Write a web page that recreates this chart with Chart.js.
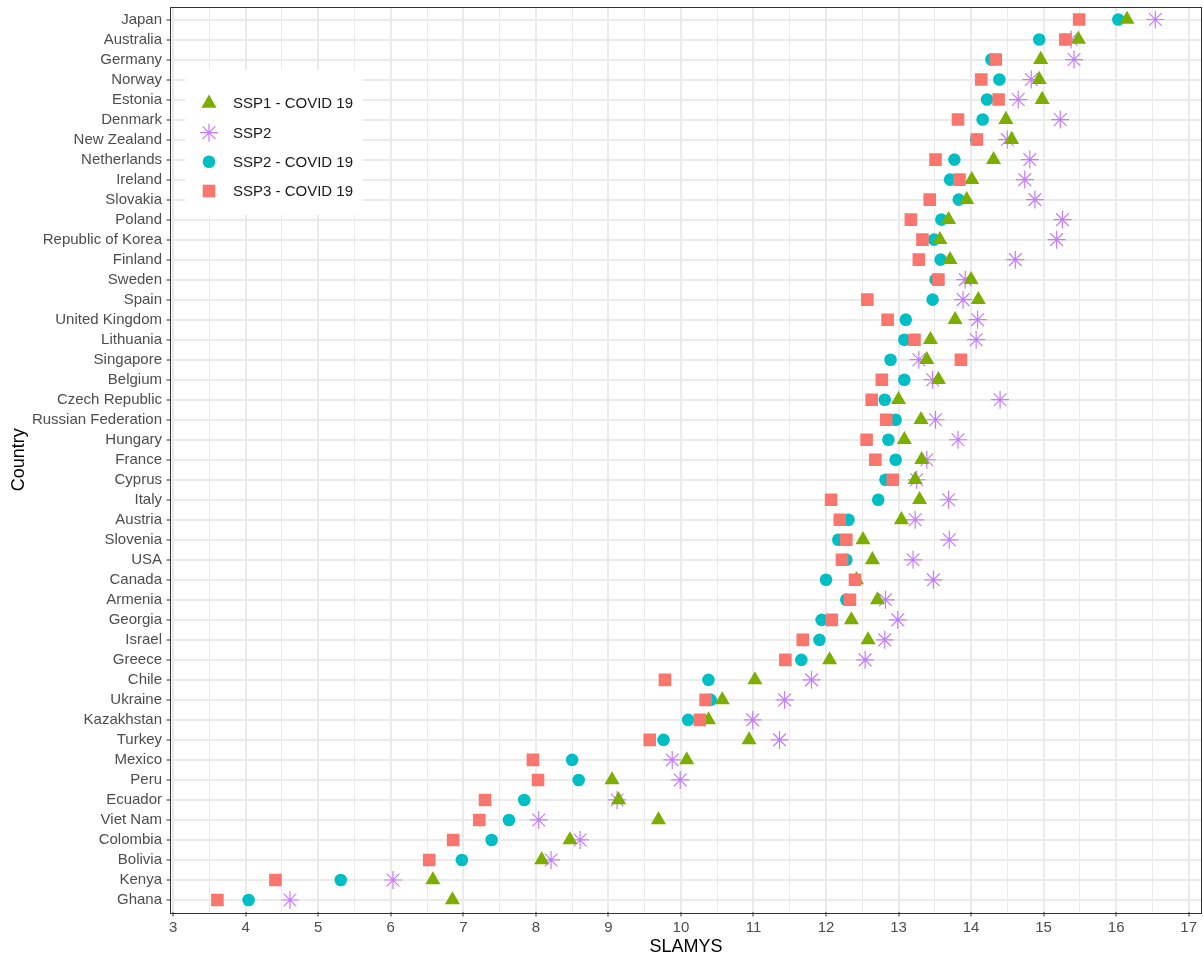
<!DOCTYPE html>
<html>
<head>
<meta charset="utf-8">
<title>SLAMYS by country</title>
<script src="https://cdn.jsdelivr.net/npm/chart.js@4.4.1/dist/chart.umd.min.js"></script>
<style>
  body { margin: 0; background: #fff; }
  #wrap { width: 1203px; height: 960px; }
</style>
</head>
<body>
<div id="wrap"><canvas id="slamysChart" width="1203" height="960"></canvas></div>
<script>
var countries = ['Japan', 'Australia', 'Germany', 'Norway', 'Estonia', 'Denmark', 'New Zealand',
  'Netherlands', 'Ireland', 'Slovakia', 'Poland', 'Republic of Korea', 'Finland', 'Sweden', 'Spain',
  'United Kingdom', 'Lithuania', 'Singapore', 'Belgium', 'Czech Republic', 'Russian Federation',
  'Hungary', 'France', 'Cyprus', 'Italy', 'Austria', 'Slovenia', 'USA', 'Canada', 'Armenia',
  'Georgia', 'Israel', 'Greece', 'Chile', 'Ukraine', 'Kazakhstan', 'Turkey', 'Mexico', 'Peru',
  'Ecuador', 'Viet Nam', 'Colombia', 'Bolivia', 'Kenya', 'Ghana']

var ssp1Covid = [16.15, 15.48, 14.96, 14.94, 14.98, 14.48, 14.56, 14.31, 14.01, 13.94, 13.69,
  13.57, 13.71, 14.00, 14.10, 13.78, 13.44, 13.39, 13.55, 13.00, 13.31, 13.08, 13.32, 13.23,
  13.29, 13.04, 12.51, 12.64, 12.42, 12.71, 12.35, 12.58, 12.05, 11.02, 10.57, 10.38, 10.94,
  10.08, 9.05, 9.14, 9.69, 8.47, 8.08, 6.58, 6.85]

var ssp2 = [16.54, 15.38, 15.42, 14.83, 14.65, 15.23, 14.50, 14.81, 14.74, 14.88, 15.26,
  15.18, 14.61, 13.92, 13.89, 14.09, 14.07, 13.28, 13.47, 14.40, 13.51, 13.82, 13.39, 13.25,
  13.69, 13.23, 13.70, 13.20, 13.48, 12.82, 12.99, 12.81, 12.54, 11.80, 11.43, 10.99, 11.36,
  9.88, 9.99, 9.12, 8.04, 8.61, 8.21, 6.03, 4.61]

var ssp2Covid = [16.03, 14.94, 14.28, 14.39, 14.22, 14.16, 14.07, 13.77, 13.71, 13.83, 13.59,
  13.49, 13.58, 13.51, 13.47, 13.10, 13.08, 12.89, 13.08, 12.81, 12.96, 12.86, 12.96, 12.82,
  12.72, 12.31, 12.17, 12.28, 12.00, 12.28, 11.94, 11.91, 11.66, 10.38, 10.41, 10.10, 9.76,
  8.50, 8.59, 7.84, 7.63, 7.39, 6.98, 5.31, 4.04]

var ssp3Covid = [15.49, 15.30, 14.34, 14.14, 14.38, 13.82, 14.08, 13.51, 13.84, 13.43, 13.17,
  13.33, 13.28, 13.55, 12.57, 12.85, 13.22, 13.86, 12.77, 12.63, 12.83, 12.56, 12.68, 12.92,
  12.07, 12.19, 12.28, 12.22, 12.40, 12.33, 12.08, 11.68, 11.44, 9.78, 10.34, 10.26, 9.57,
  7.96, 8.03, 7.30, 7.22, 6.86, 6.53, 4.41, 3.61]

var xTicks = [3, 3.5, 4, 4.5, 5, 5.5, 6, 6.5, 7, 7.5, 8, 8.5, 9, 9.5, 10, 10.5, 11, 11.5,
  12, 12.5, 13, 13.5, 14, 14.5, 15, 15.5, 16, 16.5, 17]

var legendItems = [
  {label: 'SSP1 - COVID 19', shape: 'triangle', color: '#7CAE00'},
  {label: 'SSP2', shape: 'star', color: '#C77CFF'},
  {label: 'SSP2 - COVID 19', shape: 'circle', color: '#00BFC4'},
  {label: 'SSP3 - COVID 19', shape: 'rect', color: '#F8766D'}
]

function toPoints(values) {
  return values.map(function (v, i) { return {x: v, y: i} })
}

function isMajor(v) {
  return Math.abs(v - Math.round(v)) < 1e-6
}

// ggplot style symbols for the inside legend
function drawSymbol(ctx, shape, color, x, y) {
  ctx.save()
  ctx.fillStyle = color
  ctx.strokeStyle = color
  ctx.beginPath()
  if (shape == 'triangle') {
    var r = 8.7
    ctx.moveTo(x, y - r)
    ctx.lineTo(x + r * 0.866, y + r / 2)
    ctx.lineTo(x - r * 0.866, y + r / 2)
    ctx.closePath()
    ctx.fill()
  } else if (shape == 'circle') {
    ctx.arc(x, y, 6.3, 0, Math.PI * 2)
    ctx.fill()
  } else if (shape == 'rect') {
    ctx.rect(x - 6.3, y - 6.3, 12.6, 12.6)
    ctx.fill()
  } else {
    var s = 9, d = s * Math.SQRT1_2
    ctx.lineWidth = 1.2
    ctx.moveTo(x - s, y); ctx.lineTo(x + s, y)
    ctx.moveTo(x, y - s); ctx.lineTo(x, y + s)
    ctx.moveTo(x - d, y - d); ctx.lineTo(x + d, y + d)
    ctx.moveTo(x - d, y + d); ctx.lineTo(x + d, y - d)
    ctx.stroke()
  }
  ctx.restore()
}

var panelPlugin = {
  id: 'panel',
  afterDraw: function (chart) {
    var ctx = chart.ctx
    var a = chart.chartArea
    ctx.save()
    ctx.strokeStyle = '#333333'
    ctx.lineWidth = 1
    ctx.strokeRect(Math.round(a.left) - 0.5, Math.round(a.top) - 0.5,
      Math.round(a.right - a.left) + 1, Math.round(a.bottom - a.top) + 1)

    // legend box inside the panel
    ctx.fillStyle = '#ffffff'
    ctx.fillRect(185, 70, 178, 145)
    ctx.font = '15px "Liberation Sans", Arial, sans-serif'
    ctx.textBaseline = 'middle'
    ctx.textAlign = 'left'
    var rowsY = [103.3, 132.7, 161.7, 191]
    legendItems.forEach(function (item, i) {
      drawSymbol(ctx, item.shape, item.color, 209, rowsY[i])
      ctx.fillStyle = '#1A1A1A'
      ctx.fillText(item.label, 233, rowsY[i] + 1)
    })
    ctx.restore()
  }
}

Chart.defaults.font.family = '"Liberation Sans", Arial, sans-serif'

var ctx = document.getElementById('slamysChart')

new Chart(ctx, {
  type: 'scatter',
  data: {
    datasets: [
      {
        label: 'SSP3 - COVID 19',
        data: toPoints(ssp3Covid),
        pointStyle: 'rect',
        pointRadius: 8.9,
        backgroundColor: '#F8766D',
        borderColor: '#F8766D',
        borderWidth: 0
      },
      {
        label: 'SSP1 - COVID 19',
        data: toPoints(ssp1Covid),
        pointStyle: 'triangle',
        pointRadius: 8.7,
        backgroundColor: '#7CAE00',
        borderColor: '#7CAE00',
        borderWidth: 0
      },
      {
        label: 'SSP2 - COVID 19',
        data: toPoints(ssp2Covid),
        pointStyle: 'circle',
        pointRadius: 6.3,
        backgroundColor: '#00BFC4',
        borderColor: '#00BFC4',
        borderWidth: 0
      },
      {
        label: 'SSP2',
        data: toPoints(ssp2),
        pointStyle: 'star',
        pointRadius: 9,
        backgroundColor: '#C77CFF',
        borderColor: '#C77CFF',
        borderWidth: 1.2
      }
    ]
  },
  options: {
    responsive: false,
    animation: false,
    events: [],
    layout: {
      autoPadding: false,
      padding: {left: 0, top: 7.5, right: 2, bottom: 0}
    },
    plugins: {
      legend: {display: false},
      tooltip: {enabled: false}
    },
    scales: {
      x: {
        type: 'linear',
        bounds: 'data',
        min: 2.97,
        max: 17.17,
        afterBuildTicks: function (axis) {
          axis.ticks = xTicks.map(function (v) { return {value: v} })
        },
        afterFit: function (axis) {
          axis.height = 48
          axis.paddingLeft = 0
          axis.paddingRight = 0
        },
        border: {display: false},
        grid: {
          color: '#EBEBEB',
          lineWidth: function (c) { return c.tick && isMajor(c.tick.value) ? 2 : 1 },
          tickLength: 4.5,
          tickWidth: 1,
          tickColor: function (c) { return c.tick && isMajor(c.tick.value) ? '#333333' : 'rgba(0,0,0,0)' }
        },
        ticks: {
          autoSkip: false,
          maxRotation: 0,
          padding: 2,
          color: '#4D4D4D',
          font: {size: 15},
          callback: function (v) { return isMajor(v) ? String(v) : '' }
        },
        title: {
          display: true,
          text: 'SLAMYS',
          color: '#000000',
          font: {size: 18},
          padding: {top: 0, bottom: 2}
        }
      },
      y: {
        type: 'linear',
        bounds: 'data',
        reverse: true,
        min: -0.6,
        max: countries.length - 1 + 0.6,
        afterBuildTicks: function (axis) {
          axis.ticks = countries.map(function (c, i) { return {value: i} })
        },
        afterFit: function (axis) {
          axis.width = 171
          axis.paddingTop = 0
          axis.paddingBottom = 0
        },
        border: {display: false},
        grid: {
          color: '#EBEBEB',
          lineWidth: 2,
          tickLength: 4.5,
          tickWidth: 1,
          tickColor: '#333333'
        },
        ticks: {
          autoSkip: false,
          padding: 4.5,
          color: '#4D4D4D',
          font: {size: 15},
          callback: function (v) { return countries[v] }
        },
        title: {
          display: true,
          text: 'Country',
          color: '#000000',
          font: {size: 18},
          padding: {top: 8, bottom: 0}
        }
      }
    }
  },
  plugins: [panelPlugin]
})
</script>
</body>
</html>
